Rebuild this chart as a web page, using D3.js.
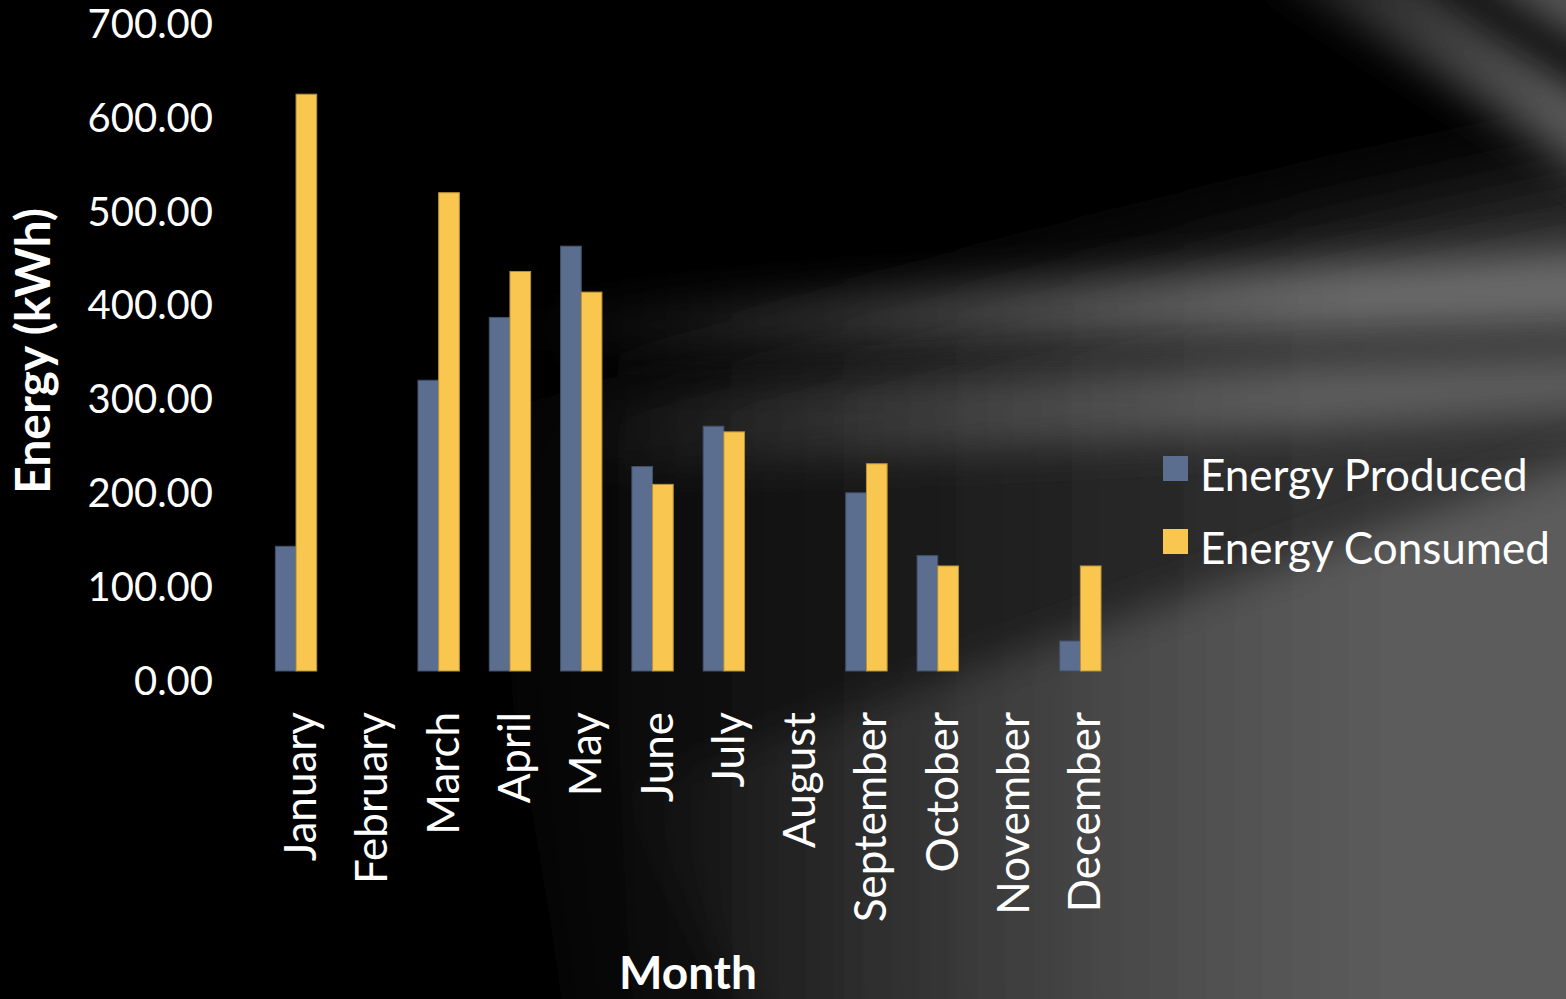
<!DOCTYPE html>
<html>
<head>
<meta charset="utf-8">
<script src="https://cdn.jsdelivr.net/npm/d3@7/dist/d3.min.js"></script>
<style>
  html, body { margin: 0; padding: 0; background: #000; overflow: hidden; }
  svg { display: block; font-family: Lato, "Open Sans", sans-serif; }
</style>
</head>
<body>
<svg id="chart" width="1566" height="999"></svg>
<script>
/* Monthly energy chart: produced vs consumed, grouped bars on a dark
   streaky slide background. Data first, then background, then the chart. */

const months = ['January', 'February', 'March', 'April', 'May', 'June',
  'July', 'August', 'September', 'October', 'November', 'December'];
const produced = [133, null, 310, 377, 453, 218, 261, null, 190, 123, null, 32];
const consumed = [615, null, 510, 426, 404, 199, 255, null, 221, 112, null, 112];
const seriesNames = ['Energy Produced', 'Energy Consumed'];
const yTicks = [0, 100, 200, 300, 400, 500, 600, 700];

const W = 1566, H = 999;

const colors = {
  produced: '#5b6e8f',
  producedEdge: '#41506a',
  consumed: '#f9c74f',
  consumedEdge: '#b8913a',
  text: '#ffffff',
};

const svg = d3.select('#chart');
const defs = svg.append('defs');

// --- background ---------------------------------------------------------
// filters span the whole canvas so the blur never gets clipped
function makeBlur(id, sd) {
  defs.append('filter').attr('id', id)
    .attr('filterUnits', 'userSpaceOnUse')
    .attr('x', -300).attr('y', -300).attr('width', W + 600).attr('height', H + 600)
    .append('feGaussianBlur').attr('stdDeviation', sd);
}
makeBlur('blur', 20);
makeBlur('blurSoft', 50);

function fadeGradient(id, x1, x2, color) {
  const g = defs.append('linearGradient').attr('id', id)
    .attr('gradientUnits', 'userSpaceOnUse')
    .attr('x1', x1).attr('y1', 0).attr('x2', x2).attr('y2', 0);
  g.append('stop').attr('offset', 0).attr('stop-color', color).attr('stop-opacity', 0);
  g.append('stop').attr('offset', 1).attr('stop-color', color).attr('stop-opacity', 1);
}
fadeGradient('fadeA', 520, 1350, '#6a6a6a');
fadeGradient('fadeB', 560, 1300, '#5e5e5e');
fadeGradient('fadeC', 620, 1400, '#5c5c5c');
fadeGradient('fadeD', 450, 1300, '#303030');
fadeGradient('fadeArc', 1150, 1566, '#5a5a5a');

const bg = svg.append('g').attr('class', 'background');
bg.append('rect').attr('width', W).attr('height', H).attr('fill', '#000');
// wide dim glow on the right half
bg.append('path')
  .attr('d', 'M450,420 L1700,150 L1700,1100 L600,1100 Z')
  .attr('fill', 'url(#fadeD)').attr('filter', 'url(#blurSoft)');
// upper bright band
bg.append('path')
  .attr('d', 'M520,310 L1700,245 L1700,322 L520,352 Z')
  .attr('fill', 'url(#fadeA)').attr('filter', 'url(#blur)');
// second band under the thin dark line
bg.append('path')
  .attr('d', 'M560,388 L1700,352 L1700,405 L560,475 Z')
  .attr('fill', 'url(#fadeB)').attr('filter', 'url(#blur)');
// big lower-right sheet
bg.append('path')
  .attr('d', 'M620,790 L1700,420 L1700,1100 L800,1100 Z')
  .attr('fill', 'url(#fadeC)').attr('filter', 'url(#blur)');
// soft arcs in the top right corner
bg.append('path')
  .attr('d', 'M1250,-40 Q1420,60 1640,210 L1640,120 Q1500,40 1400,-40 Z')
  .attr('fill', 'url(#fadeArc)').attr('filter', 'url(#blur)');
bg.append('path')
  .attr('d', 'M1450,-40 Q1530,20 1640,80 L1640,-40 Z')
  .attr('fill', '#555').attr('filter', 'url(#blur)');

// --- scales ---------------------------------------------------------------
const x = d3.scaleBand()
  .domain(months)
  .range([260.4, 1116])
  .paddingInner(0.42)
  .paddingOuter(0.21);

const xSeries = d3.scaleBand()
  .domain(seriesNames)
  .range([0, x.bandwidth()]);

const y = d3.scaleLinear().domain([0, 700]).range([671, 14.5]);

const rows = months.map((m, i) => ({
  month: m,
  values: [
    { name: seriesNames[0], value: produced[i], fill: colors.produced, edge: colors.producedEdge },
    { name: seriesNames[1], value: consumed[i], fill: colors.consumed, edge: colors.consumedEdge },
  ],
}));

// --- bars -----------------------------------------------------------------
const groups = svg.append('g').attr('class', 'bars')
  .selectAll('g')
  .data(rows)
  .join('g')
  .attr('transform', (d) => `translate(${x(d.month)},0)`);

groups.selectAll('rect')
  .data((d) => d.values.filter((v) => v.value != null))
  .join('rect')
  .attr('x', (d) => xSeries(d.name))
  .attr('y', (d) => y(d.value))
  .attr('width', xSeries.bandwidth())
  .attr('height', (d) => y(0) - y(d.value))
  .attr('fill', (d) => d.fill)
  .attr('stroke', (d) => d.edge)
  .attr('stroke-width', 1);

// --- y axis ---------------------------------------------------------------
const yAxis = svg.append('g')
  .attr('class', 'y-axis')
  .attr('transform', 'translate(213,0)')
  .call(d3.axisLeft(y).tickValues(yTicks).tickFormat(d3.format('.2f')).tickSize(0).tickPadding(0));
yAxis.select('.domain').remove();
yAxis.selectAll('text')
  .attr('fill', colors.text)
  .attr('font-size', 40)
  .attr('font-family', 'Lato, sans-serif')
  .attr('dy', '0.35em')
  .attr('y', 9);

// --- x axis ---------------------------------------------------------------
const xAxis = svg.append('g')
  .attr('class', 'x-axis')
  .attr('transform', 'translate(0,712)')
  .call(d3.axisBottom(x).tickSize(0).tickPadding(0));
xAxis.select('.domain').remove();
xAxis.selectAll('text')
  .attr('fill', colors.text)
  .attr('font-size', 44)
  .attr('font-family', 'Lato, sans-serif')
  .attr('text-anchor', 'end')
  .attr('transform', 'rotate(-90)')
  .attr('x', 0)
  .attr('y', 0)
  .attr('dy', 20);

// --- axis titles ----------------------------------------------------------
svg.append('text')
  .attr('transform', 'translate(50,351) rotate(-90)')
  .attr('text-anchor', 'middle')
  .attr('fill', colors.text)
  .attr('font-size', 48)
  .attr('font-weight', 700)
  .text('Energy (kWh)');

svg.append('text')
  .attr('x', 688)
  .attr('y', 989)
  .attr('text-anchor', 'middle')
  .attr('fill', colors.text)
  .attr('font-size', 46)
  .attr('font-weight', 700)
  .text('Month');

// --- legend ---------------------------------------------------------------
const legend = svg.append('g').attr('class', 'legend')
  .selectAll('g')
  .data(rows[0].values)
  .join('g')
  .attr('transform', (d, i) => `translate(1163,${456 + i * 73})`);
legend.append('rect')
  .attr('width', 25).attr('height', 25)
  .attr('fill', (d) => d.fill);
legend.append('text')
  .attr('x', 37)
  .attr('y', 35)
  .attr('fill', colors.text)
  .attr('font-size', 44)
  .text((d) => d.name);
</script>
</body>
</html>
